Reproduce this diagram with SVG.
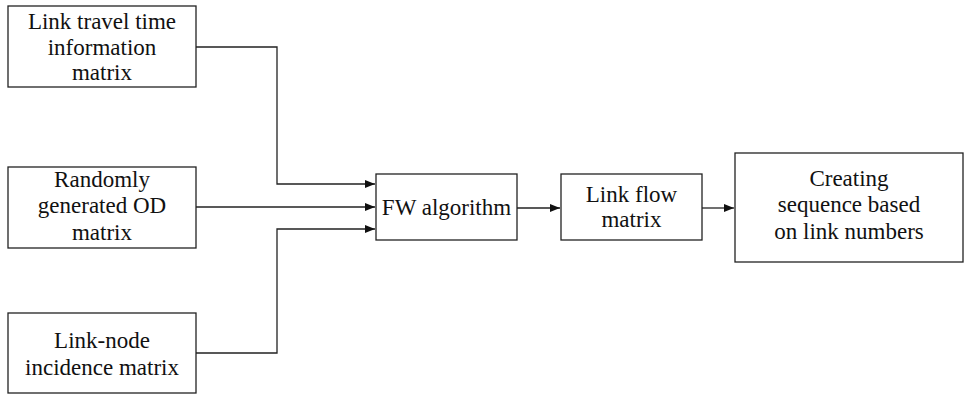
<svg xmlns="http://www.w3.org/2000/svg" width="964" height="394" viewBox="0 0 964 394">
<defs>
<style>
.box{fill:#fff;stroke:#222;stroke-width:1.3}
.lbl{font-family:"Liberation Serif","Times New Roman",serif;font-size:23px;fill:#111;text-anchor:middle}
.con{fill:none;stroke:#222;stroke-width:1.3}
</style>
<marker id="arr" markerWidth="10" markerHeight="8" refX="10" refY="4" orient="auto" markerUnits="userSpaceOnUse">
<path d="M0,0 L10,4 L0,8 Z" fill="#111"/>
</marker>
</defs>
<rect width="964" height="394" fill="#fff"/>
<g id="connectors">
<path class="con" d="M196,47 H277 V184 H375" marker-end="url(#arr)"/>
<path class="con" d="M196,207 H375" marker-end="url(#arr)"/>
<path class="con" d="M196,353 H277 V229 H375" marker-end="url(#arr)"/>
<path class="con" d="M517,208 H560" marker-end="url(#arr)"/>
<path class="con" d="M702,208 H734" marker-end="url(#arr)"/>
</g>
<g id="n1">
<rect class="box" x="8" y="6" width="188" height="81"/>
<text class="lbl" x="102" y="29">Link travel time</text>
<text class="lbl" x="102" y="55">information</text>
<text class="lbl" x="102" y="80">matrix</text>
</g>
<g id="n2">
<rect class="box" x="8" y="167" width="188" height="81"/>
<text class="lbl" x="102" y="187">Randomly</text>
<text class="lbl" x="102" y="213">generated OD</text>
<text class="lbl" x="102" y="240">matrix</text>
</g>
<g id="n3">
<rect class="box" x="8" y="313" width="188" height="80"/>
<text class="lbl" x="102" y="348">Link-node</text>
<text class="lbl" x="102" y="375">incidence matrix</text>
</g>
<g id="n4">
<rect class="box" x="376" y="174" width="141" height="66"/>
<text class="lbl" x="446.5" y="215">FW algorithm</text>
</g>
<g id="n5">
<rect class="box" x="561" y="174" width="141" height="66"/>
<text class="lbl" x="631.5" y="202">Link flow</text>
<text class="lbl" x="631.5" y="227">matrix</text>
</g>
<g id="n6">
<rect class="box" x="735" y="153" width="228" height="109"/>
<text class="lbl" x="849" y="186">Creating</text>
<text class="lbl" x="849" y="212">sequence based</text>
<text class="lbl" x="849" y="239">on link numbers</text>
</g>
</svg>
